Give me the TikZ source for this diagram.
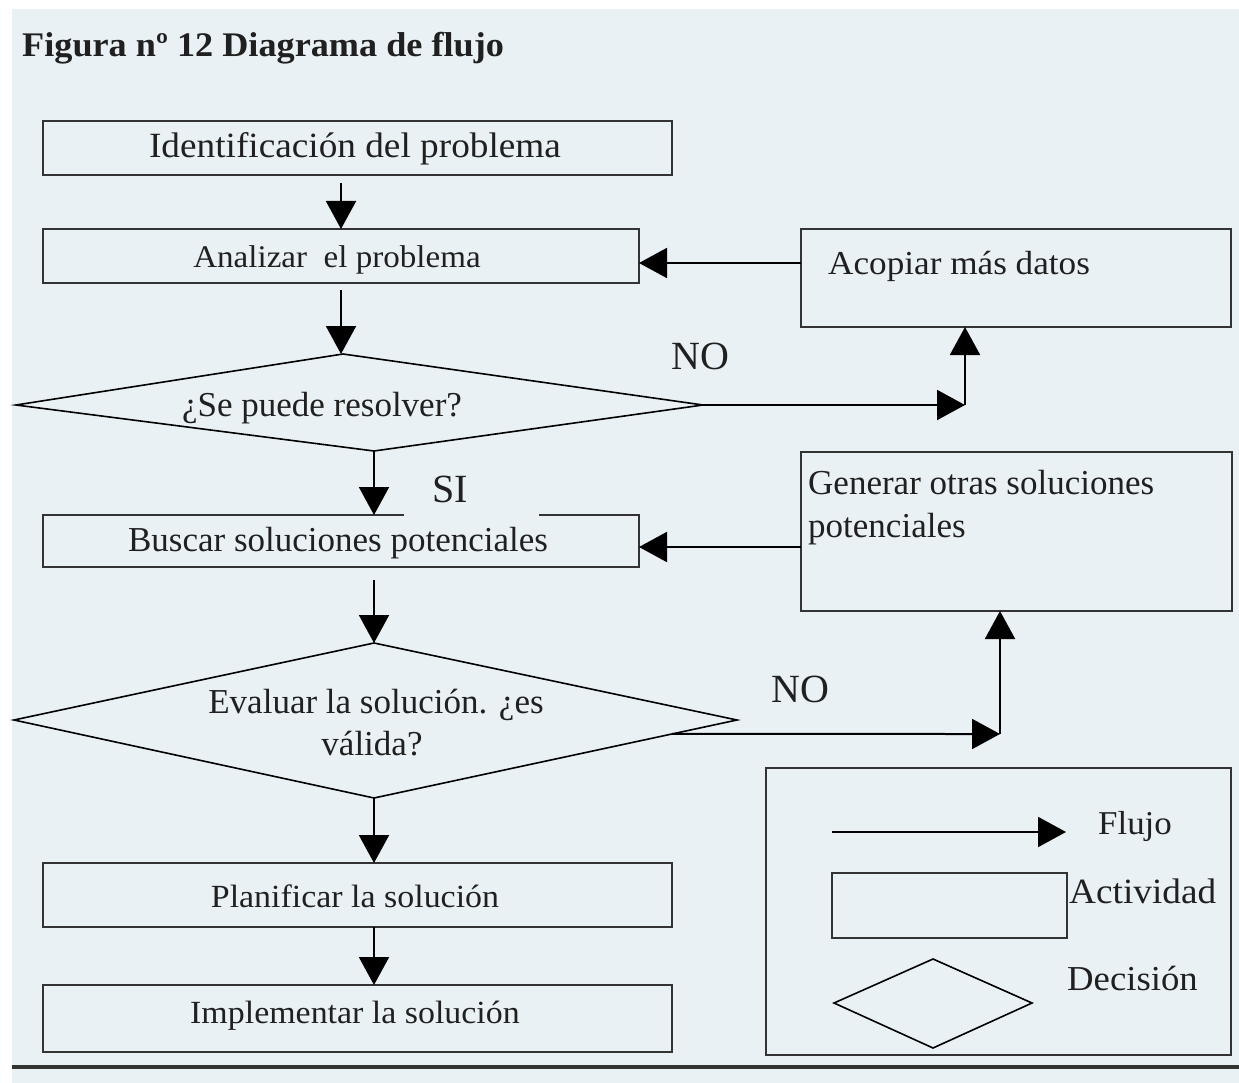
\documentclass[tikz,border=0pt]{standalone}
\usepackage{fontspec}
\setmainfont{Liberation Serif}
\newfontfamily\palfont{Liberation Serif}[FakeStretch=1.05]
\usetikzlibrary{arrows.meta,calc}
\definecolor{bg}{HTML}{EAF1F5}
\definecolor{ink}{HTML}{333333}
\definecolor{txt}{HTML}{202020}

\begin{document}
\begin{tikzpicture}[x=1pt,y=-1pt,
  box/.style={draw=ink,line width=2pt,inner sep=0pt,outer sep=0pt},
  flow/.style={draw=black,line width=2pt,-{Triangle[length=28pt,width=30pt]}},
  rhomb/.style={draw=black,line width=1.6pt,line join=miter},
  lbl/.style={inner sep=0pt,anchor=base,text=txt},
  tms/.style={font=\fontsize{35}{42}\selectfont},
  big/.style={font=\fontsize{40}{46}\selectfont},
  pal/.style={font=\palfont\fontsize{#1}{#1}\selectfont},
]
\useasboundingbox (0,0) rectangle (1239,1083);
\fill[bg] (12,9) rectangle (1239,1083);

% title
\node[lbl,anchor=base west,font=\palfont\bfseries\fontsize{34.5}{40}\selectfont] (title) at (22,57) {Figura nº 12 Diagrama de flujo};

% activity boxes
\node[box,minimum width=629pt,minimum height=54pt] (b1) at (357.5,148) {};
\node[box,minimum width=596pt,minimum height=54pt] (b2) at (341,256) {};
\node[box,minimum width=430pt,minimum height=98pt] (acop) at (1016,278) {};
\node[box,minimum width=596pt,minimum height=52pt] (b3) at (341,541) {};
\node[box,minimum width=431pt,minimum height=159pt] (gen) at (1016.5,531.5) {};
\node[box,minimum width=629pt,minimum height=64pt] (b4) at (357.5,895) {};
\node[box,minimum width=629pt,minimum height=67pt] (b5) at (357.5,1018.5) {};

% box texts
\node[lbl,pal=35.5] (t1) at (355,158) {Identificación del problema};
\node[lbl,pal=31.5] (t2) at (337,268) {Analizar\ \ el problema};
\node[lbl,anchor=base west,pal=33.5] (tacop) at (828,275) {Acopiar más datos};
\node[lbl,tms] (t3) at (338,551) {Buscar soluciones potenciales};
\node[lbl,anchor=base west,tms] (tgen1) at (808,494) {Generar otras soluciones};
\node[lbl,anchor=base west,tms] (tgen2) at (808,537) {potenciales};
\node[lbl,pal=32.3] (t4) at (355,907) {Planificar la solución};
\node[lbl,pal=32.3] (t5) at (355,1023) {Implementar la solución};

% decision 1
\coordinate (d1l) at (16,405);
\coordinate (d1t) at (343,354);
\coordinate (d1r) at (703,405);
\coordinate (d1b) at (374,451);
\draw[rhomb] (d1l) -- (d1t) -- (d1r) -- (d1b) -- cycle;
\node[lbl,tms] (td1) at (322,416) {¿Se puede resolver?};

% decision 2
\coordinate (d2l) at (14,720);
\coordinate (d2t) at (374,643);
\coordinate (d2r) at (737,720);
\coordinate (d2b) at (374,798);
\draw[rhomb] (d2l) -- (d2t) -- (d2r) -- (d2b) -- cycle;
\node[lbl,tms] (td2a) at (376,713) {Evaluar la solución. ¿es};
\node[lbl,tms] (td2b) at (372,755) {válida?};

% main flow
\draw[flow,shorten <=8pt] (b1.south -| b2.north) -- (b2.north);
\draw[flow,shorten <=7pt] (b2.south) -- (b2.south |- d1t);
\draw[flow] (d1b) -- (d1b |- b3.north);
\draw[flow,shorten <=13pt] (b3.south -| d2t) -- (d2t);
\draw[flow] (d2b) -- (d2b |- b4.north);
\draw[flow] (b4.south -| d2b) -- (b5.north -| d2b);

% "no" branches
\coordinate (c1) at (965,405);
\draw[flow] (d1r) -- (c1);
\draw[flow] (c1) -- (c1 |- acop.south);
\coordinate (e2) at ($(d2r)!0.179!(d2b)$);
\coordinate (c2) at (1000,734);
\draw[flow] (e2) -- (c2);
\draw[flow] (c2) -- (c2 |- gen.south);

% feedback arrows
\path ([yshift=15pt]acop.west) coordinate (a1);
\draw[flow] (a1) -- (a1 -| b2.east);
\path ([yshift=-15.5pt]gen.west) coordinate (g1);
\draw[flow] (g1) -- (g1 -| b3.east);

% branch labels
\node[lbl,big] (no1) at (700,369) {NO};
\node[lbl,big] (no2) at (800,702) {NO};
\node[fill=bg,inner sep=0pt,minimum width=135pt,minimum height=46pt] (sipatch) at (471.5,493) {};
\node[lbl,big] (si) at (450,502) {SI};

% legend
\node[box,line width=2.5pt,minimum width=465pt,minimum height=287pt] (leg) at (998.5,911.5) {};
\coordinate (fa) at (832,832);
\coordinate (fb) at (1066,832);
\draw[flow] (fa) -- (fb);
\node[box,minimum width=235pt,minimum height=65pt] (act) at (949.5,905) {};
\coordinate (ql) at (834,1003);
\coordinate (qt) at (933,959);
\coordinate (qr) at (1032,1003);
\coordinate (qb) at (933,1048);
\draw[rhomb] (ql) -- (qt) -- (qr) -- (qb) -- cycle;
\node[lbl,pal=33.3] (lflujo) at (1135,834) {Flujo};
\node[lbl,anchor=base west,pal=35.5] (lact) at (1069,903) {Actividad};
\node[lbl,anchor=base west,pal=35] (ldec) at (1067,990) {Decisión};

% bottom rule
\draw[draw=ink,line width=4pt] (12,1067) -- (1239,1067);
\end{tikzpicture}
\end{document}
